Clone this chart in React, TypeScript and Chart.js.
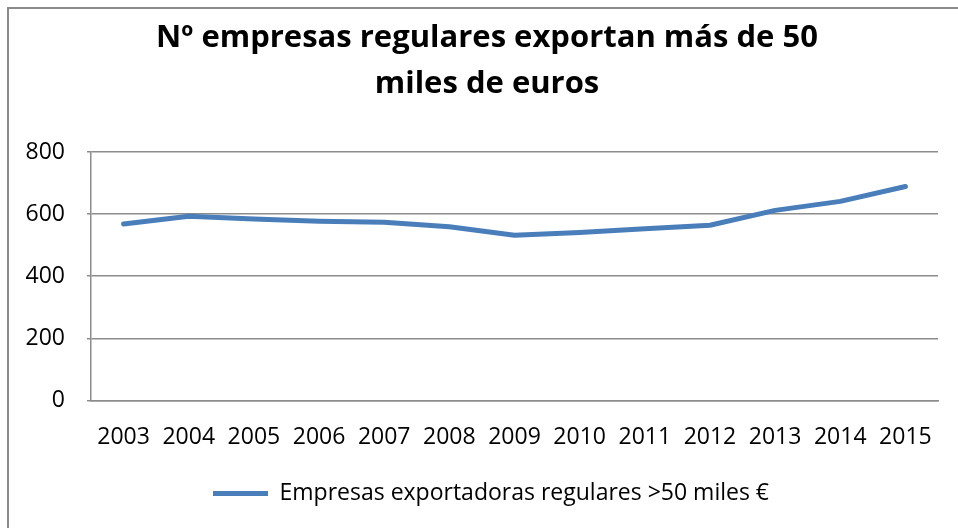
import React, { useEffect, useRef } from "react";
import { Chart, registerables } from "chart.js";

Chart.register(...registerables);

const titleLines = ["Nº empresas regulares exportan más de 50", "miles de euros"];
const years = ["2003", "2004", "2005", "2006", "2007", "2008", "2009", "2010", "2011", "2012", "2013", "2014", "2015"];
const seriesLabel = "Empresas exportadoras regulares >50 miles €";
const seriesValues = [568, 593, 584, 577, 574, 559, 532, 541, 553, 564, 612, 641, 689];
const yMin = 0;
const yMax = 800;
const yStep = 200;

const FONT = "'Open Sans', 'Noto Sans', sans-serif";
const LINE_COLOR = "#4a7ebb";
const GRID_COLOR = "#8c8c8c";

// nudges the centred title and legend to sit where the original's do
const boxNudge = {
  id: "boxNudge",
  afterLayout(chart: any) {
    if (chart.titleBlock) {
      chart.titleBlock.left += 5;
      chart.titleBlock.right += 5;
    }
    if (chart.legend) {
      chart.legend.left += 9;
      chart.legend.right += 9;
    }
  },
};

export default function App() {
  const canvasRef = useRef<HTMLCanvasElement | null>(null);

  useEffect(() => {
    if (!canvasRef.current) return;
    const chart = new Chart(canvasRef.current, {
      type: "line",
      data: {
        labels: years,
        datasets: [
          {
            label: seriesLabel,
            data: seriesValues,
            borderColor: LINE_COLOR,
            backgroundColor: LINE_COLOR,
            borderWidth: 5,
            borderCapStyle: "round",
            borderJoinStyle: "round",
            pointRadius: 0,
            pointHoverRadius: 0,
            tension: 0,
            fill: false,
          },
        ],
      },
      plugins: [boxNudge],
      options: {
        animation: false,
        responsive: false,
        maintainAspectRatio: false,
        layout: { padding: { left: 17, right: 27, top: 0, bottom: 50 } },
        plugins: {
          title: {
            display: true,
            text: titleLines,
            color: "#000",
            font: { family: FONT, size: 31, weight: "bold", lineHeight: 46 / 31 },
            padding: { top: 6, bottom: 45 },
          },
          legend: {
            display: true,
            position: "bottom",
            labels: {
              color: "#000",
              font: { family: FONT, size: 23 },
              usePointStyle: true,
              pointStyle: "line",
              pointStyleWidth: 55,
              boxHeight: 5,
              padding: 16,
            },
          },
          tooltip: { enabled: false },
        },
        scales: {
          x: {
            offset: true,
            grid: { display: false },
            border: { display: true, color: GRID_COLOR, width: 1.5 },
            ticks: {
              color: "#000",
              font: { family: FONT, size: 23 },
              padding: 15,
              maxRotation: 0,
              autoSkip: false,
            },
            afterFit: (s: any) => {
              s.paddingLeft = 0;
              s.paddingRight = 0;
            },
          },
          y: {
            min: yMin,
            max: yMax,
            grid: { color: GRID_COLOR, lineWidth: 1.5, tickLength: 4, drawTicks: true },
            border: { display: true, color: GRID_COLOR, width: 1.5 },
            ticks: {
              stepSize: yStep,
              color: "#000",
              font: { family: FONT, size: 23 },
              padding: 22,
            },
            afterFit: (s: any) => {
              s.width = 65;
            },
          },
        },
      },
    });
    return () => chart.destroy();
  }, []);

  return (
    <div style={{ position: "fixed", left: 0, top: 0, width: "100vw", height: "100vh", overflow: "hidden", background: "#fff" }}>
      <div
        style={{
          position: "absolute",
          left: 7,
          top: 7,
          width: 960,
          height: 560,
          border: "2px solid #8a8a8a",
          boxSizing: "border-box",
          background: "#fff",
        }}
      >
        <canvas ref={canvasRef} width={956} height={556} style={{ display: "block", width: 956, height: 556 }} />
      </div>
    </div>
  );
}
